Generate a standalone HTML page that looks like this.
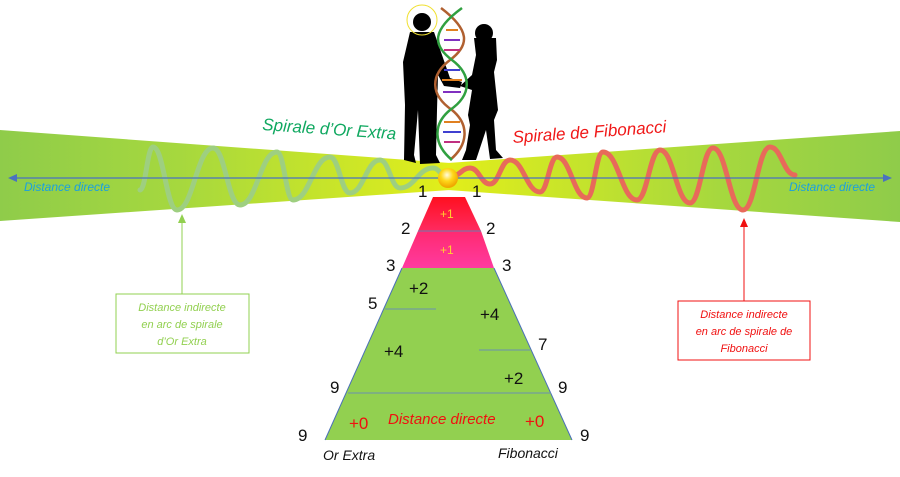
<!DOCTYPE html>
<html><head><meta charset="utf-8"><style>
html,body{margin:0;padding:0;background:#fff;}
svg{display:block;}
text{font-family:"Liberation Sans",sans-serif;}
</style></head><body>
<svg width="900" height="477" viewBox="0 0 900 477" xmlns="http://www.w3.org/2000/svg">
<defs>
<linearGradient id="gl" x1="0" x2="1" y1="0" y2="0">
<stop offset="0" stop-color="#8fcc4a"/><stop offset="0.4" stop-color="#a6d83e"/><stop offset="1" stop-color="#e2ee1a"/></linearGradient>
<linearGradient id="gr" x1="1" x2="0" y1="0" y2="0">
<stop offset="0" stop-color="#8fcc4a"/><stop offset="0.4" stop-color="#a6d83e"/><stop offset="1" stop-color="#e2ee1a"/></linearGradient>
<linearGradient id="gt" x1="0" y1="0" x2="0" y2="1">
<stop offset="0" stop-color="#ff1020"/><stop offset="1" stop-color="#ff2a60"/></linearGradient>
<linearGradient id="gt2" x1="0" y1="0" x2="0" y2="1">
<stop offset="0" stop-color="#ff2a70"/><stop offset="1" stop-color="#ff3aa0"/></linearGradient>
<radialGradient id="sun" cx="0.45" cy="0.35" r="0.6">
<stop offset="0" stop-color="#fffbe0"/><stop offset="0.5" stop-color="#ffd81a"/><stop offset="1" stop-color="#f0a800"/></radialGradient>
</defs>
<!-- bands -->
<polygon points="0,130 450,163 450,190 0,221" fill="url(#gl)"/>
<polygon points="900,131 448,163 448,190 900,222" fill="url(#gr)"/>
<!-- waves -->
<path fill="none" stroke="#9ecf80" stroke-width="5" stroke-linecap="round" d="M140,190 C145.85,190 147.15,147 153,147 C163.8,147 166.2,210 177,210 C193.2,210 196.8,148 213,148 C225.15,148 227.85,205 240,205 C256.65,205 260.35,152 277,152 C284.2,152 285.8,200 293,200 C309.65,200 313.35,157 330,157 C339,157 341,193 350,193 C363.5,193 366.5,160 380,160 C389,160 391,188 400,188 C414.85,188 418.15,168 433,168 C439.75,168 441.25,178 448,178"/>
<path fill="none" stroke="#e86a5a" stroke-width="5" stroke-linecap="round" d="M452,176 C460.1,176 461.9,168 470,168 C479,168 481,184 490,184 C499,184 501,160 510,160 C523.5,160 526.5,192 540,192 C547.65,192 549.35,157 557,157 C570.5,157 573.5,198 587,198 C594.2,198 595.8,152 603,152 C618.3,152 621.7,200 637,200 C647.35,200 649.65,150 660,150 C673.5,150 676.5,203 690,203 C700.35,203 702.65,148 713,148 C726.5,148 729.5,210 743,210 C755.15,210 757.85,147 770,147 C781.25,147 783.75,175 795,175"/>
<!-- direct arrows -->
<line x1="14" y1="178" x2="884" y2="178" stroke="#4a72c0" stroke-width="1.2"/>
<polygon points="8,178 17,174 17,182" fill="#4a72c0"/>
<polygon points="892,178 883,174 883,182" fill="#4a72c0"/>
<text x="24" y="191" font-size="12" font-style="italic" fill="#1aa0e0">Distance directe</text>
<text x="789" y="191" font-size="12" font-style="italic" fill="#1aa0e0">Distance directe</text>
<!-- spiral titles -->
<text x="262" y="130" font-size="17" font-style="italic" fill="#10a860" transform="rotate(4 262 130)">Spirale d’Or Extra</text>
<text x="513" y="143" font-size="17" font-style="italic" fill="#f01818" transform="rotate(-4 513 143)">Spirale de Fibonacci</text>
<!-- silhouettes -->
<g fill="#000">
<circle cx="422" cy="22" r="9"/>
<path d="M410,32 L434,32 L442,55 L450,78 L462,82 L460,88 L444,86 L438,75 L437,110 L436,155 L440,163 L420,164 L418,110 L414,155 L416,163 L404,160 L405,105 L403,62 Z"/>
<circle cx="484" cy="33" r="9"/>
<path d="M474,38 L496,38 L497,60 L494,72 L498,110 L494,120 L496,150 L503,158 L490,159 L486,130 L476,160 L462,160 L466,150 L470,125 L468,115 L472,90 L460,86 L472,75 L476,55 Z"/>
</g>
<circle cx="422" cy="20" r="15" fill="none" stroke="#f0e030" stroke-width="1"/>
<!-- DNA -->
<path d="M441,8 C470,30 470,45 450,60 C430,75 430,95 452,110 C470,125 468,145 450,160" fill="none" stroke="#b06030" stroke-width="2.5"/>
<path d="M462,8 C432,30 432,45 452,60 C472,75 472,95 450,110 C432,125 434,145 452,160" fill="none" stroke="#30a040" stroke-width="2.5"/>
<g stroke-width="2">
<line x1="446" y1="30" x2="458" y2="30" stroke="#e08020"/><line x1="444" y1="40" x2="460" y2="40" stroke="#8030c0"/>
<line x1="444" y1="50" x2="460" y2="50" stroke="#c03080"/><line x1="444" y1="70" x2="460" y2="70" stroke="#4040d0"/>
<line x1="442" y1="80" x2="462" y2="80" stroke="#e08020"/><line x1="443" y1="92" x2="461" y2="92" stroke="#8030c0"/>
<line x1="444" y1="122" x2="460" y2="122" stroke="#e08020"/><line x1="443" y1="132" x2="461" y2="132" stroke="#4040d0"/>
<line x1="444" y1="142" x2="460" y2="142" stroke="#c03080"/>
</g>
<circle cx="448" cy="178" r="10" fill="url(#sun)"/>
<!-- pyramid -->
<polygon points="433,197 465,197 481,231 418,231" fill="url(#gt)"/>
<polygon points="418,231 481,231 494,268 402,268" fill="url(#gt2)"/>
<polygon points="402,268 494,268 572,440 325,440" fill="#92d050"/>
<line x1="325" y1="440" x2="402" y2="268" stroke="#4a6fb8" stroke-width="1"/>
<line x1="572" y1="440" x2="494" y2="268" stroke="#4a6fb8" stroke-width="1"/>
<line x1="418" y1="231" x2="481" y2="231" stroke="#6a7fb0" stroke-width="1"/>
<line x1="385" y1="309" x2="436" y2="309" stroke="#6a8fb0" stroke-width="1"/>
<line x1="479" y1="350" x2="530" y2="350" stroke="#6a8fb0" stroke-width="1"/>
<line x1="348" y1="393" x2="551" y2="393" stroke="#6a8fb0" stroke-width="1"/>
<g font-size="17" fill="#111">
<text x="418" y="197">1</text><text x="472" y="197">1</text>
<text x="401" y="234">2</text><text x="486" y="234">2</text>
<text x="386" y="271">3</text><text x="502" y="271">3</text>
<text x="368" y="309">5</text><text x="538" y="350">7</text>
<text x="330" y="393">9</text><text x="558" y="393">9</text>
<text x="298" y="441">9</text><text x="580" y="441">9</text>
<text x="409" y="294">+2</text><text x="480" y="320">+4</text>
<text x="384" y="357">+4</text><text x="504" y="384">+2</text>
</g>
<text x="440" y="218" font-size="12" fill="#ffd030">+1</text>
<text x="440" y="254" font-size="12" fill="#ffd030">+1</text>
<text x="349" y="429" font-size="17" fill="#f01010">+0</text>
<text x="525" y="427" font-size="17" fill="#f01010">+0</text>
<text x="388" y="424" font-size="15" font-style="italic" fill="#f01010">Distance directe</text>
<text x="323" y="460" font-size="14" font-style="italic" fill="#111">Or Extra</text>
<text x="498" y="458" font-size="14" font-style="italic" fill="#111">Fibonacci</text>
<!-- callouts -->
<line x1="182" y1="222" x2="182" y2="294" stroke="#92d050" stroke-width="1"/>
<polygon points="182,214 178,223 186,223" fill="#92d050"/>
<rect x="116" y="294" width="133" height="59" fill="#fff" stroke="#92d050" stroke-width="1"/>
<g font-size="11" font-style="italic" fill="#92d050" text-anchor="middle">
<text x="182" y="311">Distance indirecte</text><text x="182" y="328">en arc de spirale</text><text x="182" y="345">d’Or Extra</text></g>
<line x1="744" y1="226" x2="744" y2="301" stroke="#f01010" stroke-width="1"/>
<polygon points="744,218 740,227 748,227" fill="#f01010"/>
<rect x="678" y="301" width="132" height="59" fill="#fff" stroke="#f01010" stroke-width="1"/>
<g font-size="11" font-style="italic" fill="#f01010" text-anchor="middle">
<text x="744" y="318">Distance indirecte</text><text x="744" y="335">en arc de spirale de</text><text x="744" y="352">Fibonacci</text></g>
</svg>
</body></html>
